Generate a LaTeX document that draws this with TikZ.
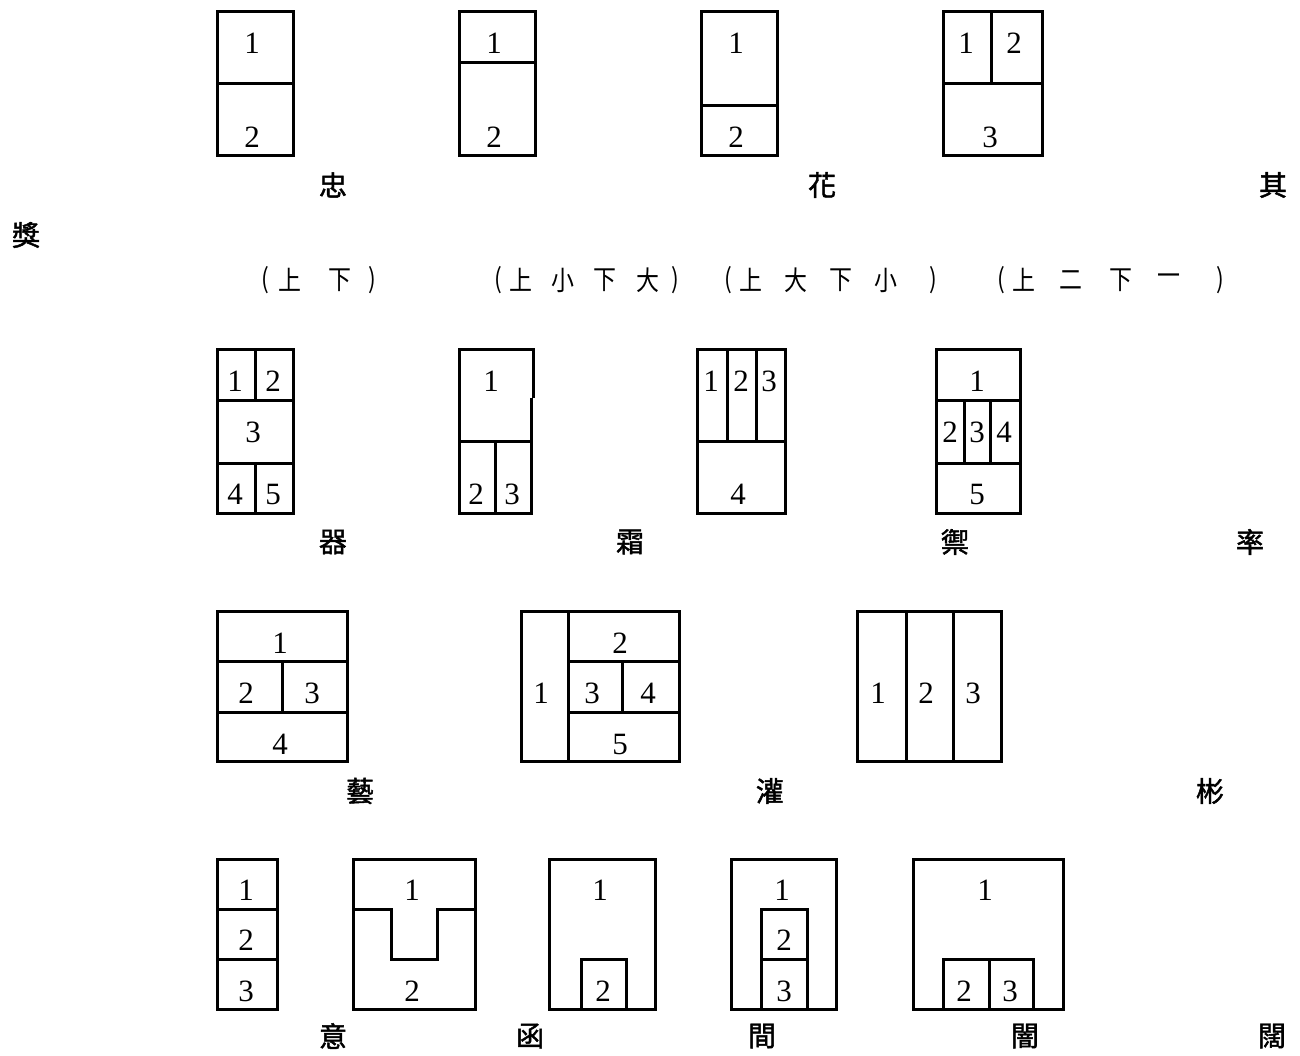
\documentclass[tikz,border=0pt]{standalone}
\usepackage{fontspec}
\setmainfont{Liberation Serif}
\newfontfamily\cjk{Noto Sans CJK TC}
\newfontfamily\cjkm[FakeBold=1.6]{Noto Sans CJK TC}
\tikzset{
  bx/.style={line width=3pt, line join=miter},
  dg/.style={inner sep=0pt, font=\fontsize{31}{31}\selectfont},
  zh/.style={inner sep=0pt, font=\cjkm\fontsize{28}{28}\selectfont},
  pz/.style={inner sep=0pt, xscale=0.85, font=\cjk\fontsize{27}{27}\selectfont},
}
\begin{document}
\begin{tikzpicture}[x=1pt,y=-1pt]
\useasboundingbox (0,0) rectangle (1300,1055);
% ---------- Row 1 ----------
\draw[bx] (217,11) rectangle (293,155);
\draw[bx] (217,83) -- (293,83);
\node[dg] (a1) at (252,43) {1};
\node[dg] (a2) at (252,137) {2};
\draw[bx] (459,11) rectangle (535,155);
\draw[bx] (459,62) -- (535,62);
\node[dg] (b1) at (494,43) {1};
\node[dg] (b2) at (494,137) {2};
\draw[bx] (701,11) rectangle (777,155);
\draw[bx] (701,105) -- (777,105);
\node[dg] (c1) at (736,43) {1};
\node[dg] (c2) at (736,137) {2};
\draw[bx] (943,11) rectangle (1042,155);
\draw[bx] (943,83) -- (1042,83);
\draw[bx] (991,11) -- (991,83);
\node[dg] (d1) at (966,43) {1};
\node[dg] (d2) at (1014,43) {2};
\node[dg] (d3) at (990,137) {3};
\node[zh] (l1) at (333,185) {忠};
\node[zh] (l2) at (822,185) {花};
\node[zh] (l3) at (1273,185) {其};
\node[zh] (l4) at (26,235) {獎};
% parenthesised row
\node[pz] (p1a) at (265,280) {(};
\node[pz] (p1b) at (290,280) {上};
\node[pz] (p1c) at (340,280) {下};
\node[pz] (p1d) at (372,280) {)};
\node[pz] (p2a) at (498,280) {(};
\node[pz] (p2b) at (521,280) {上};
\node[pz] (p2c) at (563,280) {小};
\node[pz] (p2d) at (605,280) {下};
\node[pz] (p2e) at (648,280) {大};
\node[pz] (p2f) at (675,280) {)};
\node[pz] (p3a) at (728,280) {(};
\node[pz] (p3b) at (751,280) {上};
\node[pz] (p3c) at (796,280) {大};
\node[pz] (p3d) at (841,280) {下};
\node[pz] (p3e) at (886,280) {小};
\node[pz] (p3f) at (933,280) {)};
\node[pz] (p4a) at (1001,280) {(};
\node[pz] (p4b) at (1024,280) {上};
\node[pz] (p4c) at (1071,280) {二};
\node[pz] (p4d) at (1121,280) {下};
\node[pz] (p4e) at (1169,280) {一};
\node[pz] (p4f) at (1220,280) {)};
% ---------- Row 2 ----------
\draw[bx] (217,349) rectangle (293,513);
\draw[bx] (217,400) -- (293,400);
\draw[bx] (217,463) -- (293,463);
\draw[bx] (255,349) -- (255,400);
\draw[bx] (255,463) -- (255,513);
\node[dg] (e1) at (235,381) {1};
\node[dg] (e2) at (273,381) {2};
\node[dg] (e3) at (253,432) {3};
\node[dg] (e4) at (235,494) {4};
\node[dg] (e5) at (273,494) {5};
\draw[bx] (533,398) -- (533,349) -- (459,349) -- (459,513) -- (531,513) -- (531,398);
\draw[bx] (459,441) -- (531,441);
\draw[bx] (495,441) -- (495,513);
\node[dg] (f1) at (491,381) {1};
\node[dg] (f2) at (476,494) {2};
\node[dg] (f3) at (512,494) {3};
\draw[bx] (697,349) rectangle (785,513);
\draw[bx] (697,441) -- (785,441);
\draw[bx] (727,349) -- (727,441);
\draw[bx] (756,349) -- (756,441);
\node[dg] (g1) at (711,381) {1};
\node[dg] (g2) at (741,381) {2};
\node[dg] (g3) at (769,381) {3};
\node[dg] (g4) at (738,494) {4};
\draw[bx] (936,349) rectangle (1020,513);
\draw[bx] (936,400) -- (1020,400);
\draw[bx] (936,463) -- (1020,463);
\draw[bx] (964,400) -- (964,463);
\draw[bx] (990,400) -- (990,463);
\node[dg] (h1) at (977,381) {1};
\node[dg] (h2) at (950,432) {2};
\node[dg] (h3) at (977,432) {3};
\node[dg] (h4) at (1004,432) {4};
\node[dg] (h5) at (977,494) {5};
\node[zh] (m1) at (333,542) {器};
\node[zh] (m2) at (630,542) {霜};
\node[zh] (m3) at (955,542) {禦};
\node[zh] (m4) at (1250,542) {率};
% ---------- Row 3 ----------
\draw[bx] (217,611) rectangle (347,761);
\draw[bx] (217,661) -- (347,661);
\draw[bx] (217,712) -- (347,712);
\draw[bx] (282,661) -- (282,712);
\node[dg] (i1) at (280,643) {1};
\node[dg] (i2) at (246,693) {2};
\node[dg] (i3) at (312,693) {3};
\node[dg] (i4) at (280,744) {4};
\draw[bx] (521,611) rectangle (679,761);
\draw[bx] (568,611) -- (568,761);
\draw[bx] (568,661) -- (679,661);
\draw[bx] (568,712) -- (679,712);
\draw[bx] (622,661) -- (622,712);
\node[dg] (j1) at (541,693) {1};
\node[dg] (j2) at (620,643) {2};
\node[dg] (j3) at (592,693) {3};
\node[dg] (j4) at (648,693) {4};
\node[dg] (j5) at (620,744) {5};
\draw[bx] (857,611) rectangle (1001,761);
\draw[bx] (906,611) -- (906,761);
\draw[bx] (953,611) -- (953,761);
\node[dg] (k1) at (878,693) {1};
\node[dg] (k2) at (926,693) {2};
\node[dg] (k3) at (973,693) {3};
\node[zh] (n1) at (360,791) {藝};
\node[zh] (n2) at (770,791) {灌};
\node[zh] (n3) at (1210,791) {彬};
% ---------- Row 4 ----------
\draw[bx] (217,859) rectangle (277,1009);
\draw[bx] (217,909) -- (277,909);
\draw[bx] (217,959) -- (277,959);
\node[dg] (q1) at (246,890) {1};
\node[dg] (q2) at (246,940) {2};
\node[dg] (q3) at (246,991) {3};
\draw[bx] (353,859) rectangle (475,1009);
\draw[bx] (353,909) -- (391,909) -- (391,959) -- (437,959) -- (437,909) -- (475,909);
\node[dg] (r1) at (412,890) {1};
\node[dg] (r2) at (412,991) {2};
\draw[bx] (549,859) rectangle (655,1009);
\draw[bx] (581,1009) -- (581,959) -- (626,959) -- (626,1009);
\node[dg] (s1) at (600,890) {1};
\node[dg] (s2) at (603,991) {2};
\draw[bx] (731,859) rectangle (836,1009);
\draw[bx] (761,1009) -- (761,909) -- (807,909) -- (807,1009);
\draw[bx] (761,959) -- (807,959);
\node[dg] (t1) at (782,890) {1};
\node[dg] (t2) at (784,940) {2};
\node[dg] (t3) at (784,991) {3};
\draw[bx] (913,859) rectangle (1063,1009);
\draw[bx] (943,1009) -- (943,959) -- (1033,959) -- (1033,1009);
\draw[bx] (989,959) -- (989,1009);
\node[dg] (u1) at (985,890) {1};
\node[dg] (u2) at (964,991) {2};
\node[dg] (u3) at (1010,991) {3};
\node[zh] (v1) at (333,1036) {意};
\node[zh] (v2) at (530,1036) {函};
\node[zh] (v3) at (762,1036) {間};
\node[zh] (v4) at (1025,1036) {闇};
\node[zh] (v5) at (1272,1036) {闊};
\end{tikzpicture}
\end{document}
